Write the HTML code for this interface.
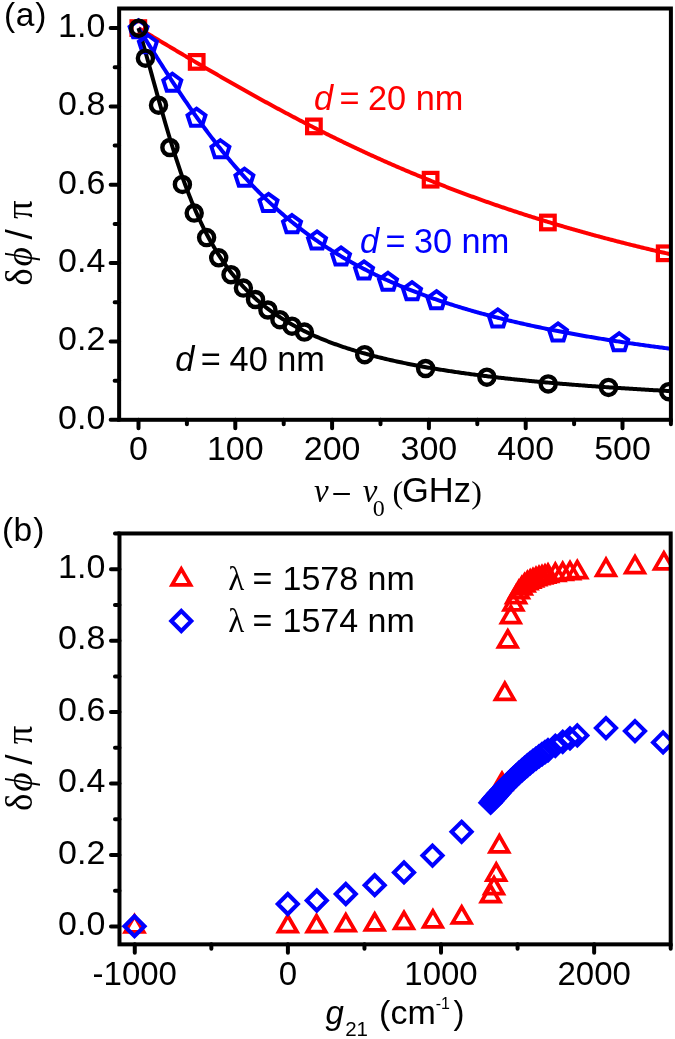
<!DOCTYPE html>
<html><head><meta charset="utf-8"><style>
html,body{margin:0;padding:0;background:#fff;}
svg{display:block;will-change:transform;filter:blur(0.35px);}

</style></head><body>
<svg width="675" height="1039" viewBox="0 0 675 1039">
<defs><clipPath id="ca"><rect x="119.14" y="8.51" width="551.76" height="411.29"/></clipPath><clipPath id="cb"><rect x="119.47" y="533.47" width="551.23" height="410.89"/></clipPath></defs>
<g clip-path="url(#ca)">
<polyline points="138.5,28.1 139.83,28.9 141.16,29.69 142.49,30.49 143.82,31.29 145.16,32.09 146.49,32.88 147.82,33.68 149.15,34.48 150.48,35.27 151.81,36.07 153.14,36.87 154.47,37.66 155.8,38.46 157.13,39.26 158.47,40.05 159.8,40.85 161.13,41.64 162.46,42.44 163.79,43.23 165.12,44.03 166.45,44.82 167.78,45.61 169.11,46.41 170.44,47.2 171.78,47.99 173.11,48.78 174.44,49.58 175.77,50.37 177.1,51.16 178.43,51.95 179.76,52.74 181.09,53.53 182.42,54.32 183.75,55.11 185.09,55.89 186.42,56.68 187.75,57.47 189.08,58.25 190.41,59.04 191.74,59.82 193.07,60.61 194.4,61.39 195.73,62.17 197.06,62.96 198.39,63.74 199.73,64.52 201.06,65.3 202.39,66.08 203.72,66.86 205.05,67.63 206.38,68.41 207.71,69.19 209.04,69.96 210.37,70.74 211.7,71.51 213.04,72.29 214.37,73.06 215.7,73.83 217.03,74.6 218.36,75.37 219.69,76.14 221.02,76.9 222.35,77.67 223.68,78.44 225.01,79.2 226.35,79.97 227.68,80.73 229.01,81.49 230.34,82.25 231.67,83.01 233,83.77 234.33,84.53 235.66,85.29 236.99,86.04 238.32,86.8 239.66,87.55 240.99,88.3 242.32,89.05 243.65,89.8 244.98,90.55 246.31,91.3 247.64,92.05 248.97,92.79 250.3,93.54 251.63,94.28 252.97,95.02 254.3,95.76 255.63,96.5 256.96,97.24 258.29,97.98 259.62,98.71 260.95,99.45 262.28,100.18 263.61,100.91 264.94,101.64 266.28,102.37 267.61,103.1 268.94,103.83 270.27,104.55 271.6,105.28 272.93,106 274.26,106.72 275.59,107.44 276.92,108.16 278.25,108.88 279.59,109.59 280.92,110.31 282.25,111.02 283.58,111.73 284.91,112.44 286.24,113.15 287.57,113.86 288.9,114.56 290.23,115.27 291.56,115.97 292.9,116.67 294.23,117.37 295.56,118.07 296.89,118.77 298.22,119.47 299.55,120.16 300.88,120.85 302.21,121.54 303.54,122.23 304.88,122.92 306.21,123.61 307.54,124.29 308.87,124.98 310.2,125.66 311.53,126.34 312.86,127.02 314.19,127.7 315.52,128.37 316.85,129.05 318.19,129.72 319.52,130.39 320.85,131.06 322.18,131.73 323.51,132.4 324.84,133.06 326.17,133.73 327.5,134.39 328.83,135.05 330.16,135.71 331.5,136.36 332.83,137.02 334.16,137.67 335.49,138.32 336.82,138.98 338.15,139.62 339.48,140.27 340.81,140.92 342.14,141.56 343.47,142.2 344.81,142.85 346.14,143.48 347.47,144.12 348.8,144.76 350.13,145.39 351.46,146.03 352.79,146.66 354.12,147.29 355.45,147.91 356.78,148.54 358.12,149.17 359.45,149.79 360.78,150.41 362.11,151.03 363.44,151.65 364.77,152.26 366.1,152.88 367.43,153.49 368.76,154.1 370.09,154.71 371.42,155.32 372.76,155.93 374.09,156.53 375.42,157.13 376.75,157.74 378.08,158.34 379.41,158.93 380.74,159.53 382.07,160.13 383.4,160.72 384.74,161.31 386.07,161.9 387.4,162.49 388.73,163.07 390.06,163.66 391.39,164.24 392.72,164.82 394.05,165.4 395.38,165.98 396.71,166.56 398.05,167.13 399.38,167.71 400.71,168.28 402.04,168.85 403.37,169.42 404.7,169.98 406.03,170.55 407.36,171.11 408.69,171.67 410.02,172.23 411.36,172.79 412.69,173.35 414.02,173.91 415.35,174.46 416.68,175.01 418.01,175.56 419.34,176.11 420.67,176.66 422,177.2 423.33,177.75 424.66,178.29 426,178.83 427.33,179.37 428.66,179.91 429.99,180.44 431.32,180.98 432.65,181.51 433.98,182.04 435.31,182.57 436.64,183.1 437.97,183.62 439.31,184.15 440.64,184.67 441.97,185.19 443.3,185.71 444.63,186.23 445.96,186.75 447.29,187.26 448.62,187.78 449.95,188.29 451.28,188.8 452.62,189.31 453.95,189.81 455.28,190.32 456.61,190.82 457.94,191.33 459.27,191.83 460.6,192.33 461.93,192.82 463.26,193.32 464.59,193.82 465.93,194.31 467.26,194.8 468.59,195.29 469.92,195.78 471.25,196.27 472.58,196.75 473.91,197.24 475.24,197.72 476.57,198.2 477.9,198.68 479.24,199.16 480.57,199.64 481.9,200.11 483.23,200.58 484.56,201.06 485.89,201.53 487.22,202 488.55,202.47 489.88,202.93 491.21,203.4 492.55,203.86 493.88,204.32 495.21,204.78 496.54,205.24 497.87,205.7 499.2,206.15 500.53,206.61 501.86,207.06 503.19,207.51 504.52,207.96 505.86,208.41 507.19,208.86 508.52,209.31 509.85,209.75 511.18,210.2 512.51,210.64 513.84,211.08 515.17,211.52 516.5,211.95 517.84,212.39 519.17,212.83 520.5,213.26 521.83,213.69 523.16,214.12 524.49,214.55 525.82,214.98 527.15,215.41 528.48,215.83 529.81,216.26 531.14,216.68 532.48,217.1 533.81,217.52 535.14,217.94 536.47,218.36 537.8,218.77 539.13,219.19 540.46,219.6 541.79,220.01 543.12,220.42 544.45,220.83 545.79,221.24 547.12,221.65 548.45,222.05 549.78,222.46 551.11,222.86 552.44,223.26 553.77,223.66 555.1,224.06 556.43,224.46 557.76,224.85 559.1,225.25 560.43,225.64 561.76,226.03 563.09,226.43 564.42,226.82 565.75,227.21 567.08,227.59 568.41,227.98 569.74,228.36 571.08,228.75 572.41,229.13 573.74,229.51 575.07,229.89 576.4,230.27 577.73,230.65 579.06,231.03 580.39,231.4 581.72,231.78 583.05,232.15 584.38,232.52 585.72,232.89 587.05,233.26 588.38,233.63 589.71,234 591.04,234.36 592.37,234.73 593.7,235.09 595.03,235.45 596.36,235.82 597.69,236.18 599.03,236.53 600.36,236.89 601.69,237.25 603.02,237.61 604.35,237.96 605.68,238.31 607.01,238.67 608.34,239.02 609.67,239.37 611,239.72 612.34,240.06 613.67,240.41 615,240.76 616.33,241.1 617.66,241.44 618.99,241.79 620.32,242.13 621.65,242.47 622.98,242.81 624.32,243.15 625.65,243.48 626.98,243.82 628.31,244.15 629.64,244.49 630.97,244.82 632.3,245.15 633.63,245.48 634.96,245.81 636.29,246.14 637.62,246.47 638.96,246.79 640.29,247.12 641.62,247.44 642.95,247.77 644.28,248.09 645.61,248.41 646.94,248.73 648.27,249.05 649.6,249.37 650.93,249.69 652.27,250 653.6,250.32 654.93,250.63 656.26,250.95 657.59,251.26 658.92,251.57 660.25,251.88 661.58,252.19 662.91,252.5 664.25,252.81 665.58,253.12 666.91,253.42 668.24,253.73 669.57,254.03 670.9,254.33" fill="none" stroke="#ff0000" stroke-width="4.0" stroke-linejoin="round"/>
<polyline points="138.5,28.1 139.83,30.23 141.16,32.36 142.49,34.49 143.82,36.62 145.16,38.74 146.49,40.87 147.82,42.99 149.15,45.11 150.48,47.23 151.81,49.35 153.14,51.46 154.47,53.57 155.8,55.67 157.13,57.77 158.47,59.87 159.8,61.96 161.13,64.05 162.46,66.14 163.79,68.21 165.12,70.29 166.45,72.35 167.78,74.41 169.11,76.47 170.44,78.51 171.78,80.55 173.11,82.59 174.44,84.61 175.77,86.63 177.1,88.64 178.43,90.64 179.76,92.64 181.09,94.62 182.42,96.6 183.75,98.57 185.09,100.53 186.42,102.48 187.75,104.42 189.08,106.35 190.41,108.27 191.74,110.19 193.07,112.09 194.4,113.98 195.73,115.86 197.06,117.73 198.39,119.6 199.73,121.45 201.06,123.28 202.39,125.11 203.72,126.93 205.05,128.74 206.38,130.53 207.71,132.32 209.04,134.09 210.37,135.85 211.7,137.6 213.04,139.34 214.37,141.07 215.7,142.79 217.03,144.49 218.36,146.18 219.69,147.86 221.02,149.53 222.35,151.19 223.68,152.84 225.01,154.47 226.35,156.09 227.68,157.7 229.01,159.3 230.34,160.89 231.67,162.46 233,164.03 234.33,165.58 235.66,167.12 236.99,168.64 238.32,170.16 239.66,171.66 240.99,173.16 242.32,174.64 243.65,176.11 244.98,177.56 246.31,179.01 247.64,180.45 248.97,181.87 250.3,183.28 251.63,184.68 252.97,186.07 254.3,187.45 255.63,188.81 256.96,190.17 258.29,191.51 259.62,192.85 260.95,194.17 262.28,195.48 263.61,196.78 264.94,198.07 266.28,199.35 267.61,200.62 268.94,201.87 270.27,203.12 271.6,204.36 272.93,205.59 274.26,206.8 275.59,208.01 276.92,209.2 278.25,210.39 279.59,211.56 280.92,212.73 282.25,213.88 283.58,215.03 284.91,216.17 286.24,217.29 287.57,218.41 288.9,219.52 290.23,220.61 291.56,221.7 292.9,222.78 294.23,223.85 295.56,224.91 296.89,225.97 298.22,227.01 299.55,228.04 300.88,229.07 302.21,230.09 303.54,231.09 304.88,232.09 306.21,233.08 307.54,234.07 308.87,235.04 310.2,236.01 311.53,236.97 312.86,237.92 314.19,238.86 315.52,239.79 316.85,240.72 318.19,241.64 319.52,242.55 320.85,243.45 322.18,244.34 323.51,245.23 324.84,246.11 326.17,246.98 327.5,247.85 328.83,248.71 330.16,249.56 331.5,250.4 332.83,251.24 334.16,252.07 335.49,252.89 336.82,253.71 338.15,254.52 339.48,255.32 340.81,256.12 342.14,256.91 343.47,257.69 344.81,258.47 346.14,259.24 347.47,260.01 348.8,260.76 350.13,261.52 351.46,262.26 352.79,263 354.12,263.73 355.45,264.46 356.78,265.18 358.12,265.9 359.45,266.61 360.78,267.32 362.11,268.01 363.44,268.71 364.77,269.4 366.1,270.08 367.43,270.76 368.76,271.43 370.09,272.09 371.42,272.76 372.76,273.41 374.09,274.06 375.42,274.71 376.75,275.35 378.08,275.98 379.41,276.62 380.74,277.24 382.07,277.86 383.4,278.48 384.74,279.09 386.07,279.7 387.4,280.3 388.73,280.9 390.06,281.49 391.39,282.08 392.72,282.66 394.05,283.24 395.38,283.82 396.71,284.39 398.05,284.95 399.38,285.52 400.71,286.07 402.04,286.63 403.37,287.18 404.7,287.72 406.03,288.26 407.36,288.8 408.69,289.34 410.02,289.87 411.36,290.39 412.69,290.91 414.02,291.43 415.35,291.95 416.68,292.46 418.01,292.96 419.34,293.47 420.67,293.97 422,294.46 423.33,294.95 424.66,295.44 426,295.93 427.33,296.41 428.66,296.89 429.99,297.36 431.32,297.84 432.65,298.3 433.98,298.77 435.31,299.23 436.64,299.69 437.97,300.15 439.31,300.6 440.64,301.05 441.97,301.49 443.3,301.94 444.63,302.38 445.96,302.81 447.29,303.25 448.62,303.68 449.95,304.11 451.28,304.53 452.62,304.95 453.95,305.37 455.28,305.79 456.61,306.2 457.94,306.61 459.27,307.02 460.6,307.43 461.93,307.83 463.26,308.23 464.59,308.63 465.93,309.02 467.26,309.41 468.59,309.8 469.92,310.19 471.25,310.57 472.58,310.96 473.91,311.33 475.24,311.71 476.57,312.09 477.9,312.46 479.24,312.83 480.57,313.2 481.9,313.56 483.23,313.92 484.56,314.28 485.89,314.64 487.22,315 488.55,315.35 489.88,315.7 491.21,316.05 492.55,316.4 493.88,316.74 495.21,317.08 496.54,317.42 497.87,317.76 499.2,318.1 500.53,318.43 501.86,318.76 503.19,319.09 504.52,319.42 505.86,319.75 507.19,320.07 508.52,320.39 509.85,320.71 511.18,321.03 512.51,321.35 513.84,321.66 515.17,321.97 516.5,322.28 517.84,322.59 519.17,322.9 520.5,323.2 521.83,323.51 523.16,323.81 524.49,324.11 525.82,324.41 527.15,324.7 528.48,325 529.81,325.29 531.14,325.58 532.48,325.87 533.81,326.15 535.14,326.44 536.47,326.72 537.8,327.01 539.13,327.29 540.46,327.57 541.79,327.84 543.12,328.12 544.45,328.39 545.79,328.67 547.12,328.94 548.45,329.21 549.78,329.48 551.11,329.74 552.44,330.01 553.77,330.27 555.1,330.53 556.43,330.79 557.76,331.05 559.1,331.31 560.43,331.57 561.76,331.82 563.09,332.08 564.42,332.33 565.75,332.58 567.08,332.83 568.41,333.08 569.74,333.32 571.08,333.57 572.41,333.81 573.74,334.06 575.07,334.3 576.4,334.54 577.73,334.78 579.06,335.01 580.39,335.25 581.72,335.48 583.05,335.72 584.38,335.95 585.72,336.18 587.05,336.41 588.38,336.64 589.71,336.87 591.04,337.09 592.37,337.32 593.7,337.54 595.03,337.77 596.36,337.99 597.69,338.21 599.03,338.43 600.36,338.65 601.69,338.86 603.02,339.08 604.35,339.3 605.68,339.51 607.01,339.72 608.34,339.93 609.67,340.14 611,340.35 612.34,340.56 613.67,340.77 615,340.98 616.33,341.18 617.66,341.38 618.99,341.59 620.32,341.79 621.65,341.99 622.98,342.19 624.32,342.39 625.65,342.59 626.98,342.79 628.31,342.98 629.64,343.18 630.97,343.37 632.3,343.57 633.63,343.76 634.96,343.95 636.29,344.14 637.62,344.33 638.96,344.52 640.29,344.71 641.62,344.89 642.95,345.08 644.28,345.26 645.61,345.45 646.94,345.63 648.27,345.81 649.6,346 650.93,346.18 652.27,346.36 653.6,346.54 654.93,346.71 656.26,346.89 657.59,347.07 658.92,347.24 660.25,347.42 661.58,347.59 662.91,347.77 664.25,347.94 665.58,348.11 666.91,348.28 668.24,348.45 669.57,348.62 670.9,348.79" fill="none" stroke="#0000ff" stroke-width="4.0" stroke-linejoin="round"/>
<polyline points="138.5,28.1 139.83,32.55 141.16,37.08 142.49,41.66 143.82,46.29 145.16,50.98 146.49,55.7 147.82,60.46 149.15,65.24 150.48,70.05 151.81,74.87 153.14,79.69 154.47,84.52 155.8,89.34 157.13,94.15 158.47,98.94 159.8,103.71 161.13,108.44 162.46,113.14 163.79,117.81 165.12,122.43 166.45,127 167.78,131.52 169.11,135.99 170.44,140.39 171.78,144.74 173.11,149.02 174.44,153.24 175.77,157.39 177.1,161.47 178.43,165.48 179.76,169.42 181.09,173.29 182.42,177.09 183.75,180.81 185.09,184.46 186.42,188.04 187.75,191.55 189.08,194.99 190.41,198.35 191.74,201.64 193.07,204.87 194.4,208.02 195.73,211.11 197.06,214.13 198.39,217.08 199.73,219.97 201.06,222.8 202.39,225.56 203.72,228.27 205.05,230.91 206.38,233.5 207.71,236.02 209.04,238.5 210.37,240.91 211.7,243.28 213.04,245.59 214.37,247.85 215.7,250.06 217.03,252.23 218.36,254.34 219.69,256.41 221.02,258.44 222.35,260.42 223.68,262.36 225.01,264.26 226.35,266.12 227.68,267.94 229.01,269.72 230.34,271.47 231.67,273.17 233,274.85 234.33,276.49 235.66,278.09 236.99,279.67 238.32,281.21 239.66,282.72 240.99,284.2 242.32,285.65 243.65,287.07 244.98,288.47 246.31,289.84 247.64,291.18 248.97,292.5 250.3,293.79 251.63,295.06 252.97,296.3 254.3,297.53 255.63,298.72 256.96,299.9 258.29,301.06 259.62,302.19 260.95,303.31 262.28,304.4 263.61,305.48 264.94,306.53 266.28,307.57 267.61,308.59 268.94,309.6 270.27,310.58 271.6,311.55 272.93,312.51 274.26,313.44 275.59,314.37 276.92,315.27 278.25,316.16 279.59,317.04 280.92,317.9 282.25,318.75 283.58,319.59 284.91,320.41 286.24,321.22 287.57,322.02 288.9,322.81 290.23,323.58 291.56,324.34 292.9,325.09 294.23,325.83 295.56,326.56 296.89,327.28 298.22,327.98 299.55,328.68 300.88,329.36 302.21,330.04 303.54,330.71 304.88,331.36 306.21,332.01 307.54,332.65 308.87,333.28 310.2,333.9 311.53,334.51 312.86,335.12 314.19,335.71 315.52,336.3 316.85,336.88 318.19,337.45 319.52,338.02 320.85,338.57 322.18,339.12 323.51,339.67 324.84,340.2 326.17,340.73 327.5,341.25 328.83,341.77 330.16,342.28 331.5,342.78 332.83,343.27 334.16,343.76 335.49,344.25 336.82,344.72 338.15,345.2 339.48,345.66 340.81,346.12 342.14,346.58 343.47,347.03 344.81,347.47 346.14,347.91 347.47,348.34 348.8,348.77 350.13,349.2 351.46,349.61 352.79,350.03 354.12,350.44 355.45,350.84 356.78,351.24 358.12,351.64 359.45,352.03 360.78,352.42 362.11,352.8 363.44,353.18 364.77,353.55 366.1,353.92 367.43,354.29 368.76,354.65 370.09,355.01 371.42,355.36 372.76,355.71 374.09,356.06 375.42,356.4 376.75,356.74 378.08,357.07 379.41,357.41 380.74,357.74 382.07,358.06 383.4,358.38 384.74,358.7 386.07,359.02 387.4,359.33 388.73,359.64 390.06,359.95 391.39,360.25 392.72,360.55 394.05,360.85 395.38,361.14 396.71,361.43 398.05,361.72 399.38,362.01 400.71,362.29 402.04,362.57 403.37,362.85 404.7,363.12 406.03,363.4 407.36,363.67 408.69,363.93 410.02,364.2 411.36,364.46 412.69,364.72 414.02,364.98 415.35,365.23 416.68,365.49 418.01,365.74 419.34,365.99 420.67,366.23 422,366.48 423.33,366.72 424.66,366.96 426,367.19 427.33,367.43 428.66,367.66 429.99,367.89 431.32,368.12 432.65,368.35 433.98,368.58 435.31,368.8 436.64,369.02 437.97,369.24 439.31,369.46 440.64,369.67 441.97,369.89 443.3,370.1 444.63,370.31 445.96,370.52 447.29,370.73 448.62,370.93 449.95,371.14 451.28,371.34 452.62,371.54 453.95,371.74 455.28,371.93 456.61,372.13 457.94,372.32 459.27,372.52 460.6,372.71 461.93,372.9 463.26,373.08 464.59,373.27 465.93,373.45 467.26,373.64 468.59,373.82 469.92,374 471.25,374.18 472.58,374.36 473.91,374.53 475.24,374.71 476.57,374.88 477.9,375.05 479.24,375.23 480.57,375.4 481.9,375.56 483.23,375.73 484.56,375.9 485.89,376.06 487.22,376.23 488.55,376.39 489.88,376.55 491.21,376.71 492.55,376.87 493.88,377.03 495.21,377.18 496.54,377.34 497.87,377.49 499.2,377.64 500.53,377.8 501.86,377.95 503.19,378.1 504.52,378.25 505.86,378.39 507.19,378.54 508.52,378.69 509.85,378.83 511.18,378.98 512.51,379.12 513.84,379.26 515.17,379.4 516.5,379.54 517.84,379.68 519.17,379.82 520.5,379.95 521.83,380.09 523.16,380.22 524.49,380.36 525.82,380.49 527.15,380.62 528.48,380.76 529.81,380.89 531.14,381.02 532.48,381.15 533.81,381.27 535.14,381.4 536.47,381.53 537.8,381.65 539.13,381.78 540.46,381.9 541.79,382.02 543.12,382.15 544.45,382.27 545.79,382.39 547.12,382.51 548.45,382.63 549.78,382.75 551.11,382.87 552.44,382.98 553.77,383.1 555.1,383.21 556.43,383.33 557.76,383.44 559.1,383.56 560.43,383.67 561.76,383.78 563.09,383.89 564.42,384 565.75,384.11 567.08,384.22 568.41,384.33 569.74,384.44 571.08,384.55 572.41,384.65 573.74,384.76 575.07,384.87 576.4,384.97 577.73,385.07 579.06,385.18 580.39,385.28 581.72,385.38 583.05,385.48 584.38,385.59 585.72,385.69 587.05,385.79 588.38,385.89 589.71,385.98 591.04,386.08 592.37,386.18 593.7,386.28 595.03,386.37 596.36,386.47 597.69,386.57 599.03,386.66 600.36,386.75 601.69,386.85 603.02,386.94 604.35,387.03 605.68,387.13 607.01,387.22 608.34,387.31 609.67,387.4 611,387.49 612.34,387.58 613.67,387.67 615,387.76 616.33,387.85 617.66,387.94 618.99,388.02 620.32,388.11 621.65,388.2 622.98,388.28 624.32,388.37 625.65,388.45 626.98,388.54 628.31,388.62 629.64,388.7 630.97,388.79 632.3,388.87 633.63,388.95 634.96,389.03 636.29,389.12 637.62,389.2 638.96,389.28 640.29,389.36 641.62,389.44 642.95,389.52 644.28,389.6 645.61,389.67 646.94,389.75 648.27,389.83 649.6,389.91 650.93,389.98 652.27,390.06 653.6,390.14 654.93,390.21 656.26,390.29 657.59,390.36 658.92,390.44 660.25,390.51 661.58,390.59 662.91,390.66 664.25,390.73 665.58,390.8 666.91,390.88 668.24,390.95 669.57,391.02 670.9,391.09" fill="none" stroke="#000000" stroke-width="4.0" stroke-linejoin="round"/>
<rect x="131.5" y="21.3" width="13.6" height="13.6" fill="none" stroke="#ff0000" stroke-width="4.2"/>
<rect x="189.9" y="55.1" width="13.6" height="13.6" fill="none" stroke="#ff0000" stroke-width="4.2"/>
<rect x="307.1" y="119.6" width="13.6" height="13.6" fill="none" stroke="#ff0000" stroke-width="4.2"/>
<rect x="423.8" y="172.9" width="13.6" height="13.6" fill="none" stroke="#ff0000" stroke-width="4.2"/>
<rect x="541.1" y="215.7" width="13.6" height="13.6" fill="none" stroke="#ff0000" stroke-width="4.2"/>
<rect x="657.9" y="246.5" width="13.6" height="13.6" fill="none" stroke="#ff0000" stroke-width="4.2"/>
<polygon points="138.6,20.25 147.59,26.78 144.15,37.35 133.05,37.35 129.61,26.78" fill="none" stroke="#0000ff" stroke-width="4.0" stroke-linejoin="miter"/>
<polygon points="147.9,35.05 156.89,41.58 153.45,52.15 142.35,52.15 138.91,41.58" fill="none" stroke="#0000ff" stroke-width="4.0" stroke-linejoin="miter"/>
<polygon points="172.3,73.65 181.29,80.18 177.85,90.75 166.75,90.75 163.31,80.18" fill="none" stroke="#0000ff" stroke-width="4.0" stroke-linejoin="miter"/>
<polygon points="196.5,108.65 205.49,115.18 202.05,125.75 190.95,125.75 187.51,115.18" fill="none" stroke="#0000ff" stroke-width="4.0" stroke-linejoin="miter"/>
<polygon points="220.4,140.25 229.39,146.78 225.95,157.35 214.85,157.35 211.41,146.78" fill="none" stroke="#0000ff" stroke-width="4.0" stroke-linejoin="miter"/>
<polygon points="244.4,168.65 253.39,175.18 249.95,185.75 238.85,185.75 235.41,175.18" fill="none" stroke="#0000ff" stroke-width="4.0" stroke-linejoin="miter"/>
<polygon points="268.5,193.85 277.49,200.38 274.05,210.95 262.95,210.95 259.51,200.38" fill="none" stroke="#0000ff" stroke-width="4.0" stroke-linejoin="miter"/>
<polygon points="292,215.05 300.99,221.58 297.55,232.15 286.45,232.15 283.01,221.58" fill="none" stroke="#0000ff" stroke-width="4.0" stroke-linejoin="miter"/>
<polygon points="317,231.45 325.99,237.98 322.55,248.55 311.45,248.55 308.01,237.98" fill="none" stroke="#0000ff" stroke-width="4.0" stroke-linejoin="miter"/>
<polygon points="341,247.45 349.99,253.98 346.55,264.55 335.45,264.55 332.01,253.98" fill="none" stroke="#0000ff" stroke-width="4.0" stroke-linejoin="miter"/>
<polygon points="364,261.35 372.99,267.88 369.55,278.45 358.45,278.45 355.01,267.88" fill="none" stroke="#0000ff" stroke-width="4.0" stroke-linejoin="miter"/>
<polygon points="388,272.75 396.99,279.28 393.55,289.85 382.45,289.85 379.01,279.28" fill="none" stroke="#0000ff" stroke-width="4.0" stroke-linejoin="miter"/>
<polygon points="412,282.15 420.99,288.68 417.55,299.25 406.45,299.25 403.01,288.68" fill="none" stroke="#0000ff" stroke-width="4.0" stroke-linejoin="miter"/>
<polygon points="436.5,291.15 445.49,297.68 442.05,308.25 430.95,308.25 427.51,297.68" fill="none" stroke="#0000ff" stroke-width="4.0" stroke-linejoin="miter"/>
<polygon points="497.8,309.35 506.79,315.88 503.35,326.45 492.25,326.45 488.81,315.88" fill="none" stroke="#0000ff" stroke-width="4.0" stroke-linejoin="miter"/>
<polygon points="558,323.45 566.99,329.98 563.55,340.55 552.45,340.55 549.01,329.98" fill="none" stroke="#0000ff" stroke-width="4.0" stroke-linejoin="miter"/>
<polygon points="619.2,333.25 628.19,339.78 624.75,350.35 613.65,350.35 610.21,339.78" fill="none" stroke="#0000ff" stroke-width="4.0" stroke-linejoin="miter"/>
<circle cx="138.6" cy="28.2" r="7.55" fill="none" stroke="#000000" stroke-width="4.4"/>
<circle cx="145.4" cy="58.2" r="7.55" fill="none" stroke="#000000" stroke-width="4.4"/>
<circle cx="158.5" cy="105.2" r="7.55" fill="none" stroke="#000000" stroke-width="4.4"/>
<circle cx="169.9" cy="147.5" r="7.55" fill="none" stroke="#000000" stroke-width="4.4"/>
<circle cx="182.4" cy="184.4" r="7.55" fill="none" stroke="#000000" stroke-width="4.4"/>
<circle cx="194.2" cy="213.1" r="7.55" fill="none" stroke="#000000" stroke-width="4.4"/>
<circle cx="206.6" cy="237.6" r="7.55" fill="none" stroke="#000000" stroke-width="4.4"/>
<circle cx="218.7" cy="257.8" r="7.55" fill="none" stroke="#000000" stroke-width="4.4"/>
<circle cx="231" cy="274.7" r="7.55" fill="none" stroke="#000000" stroke-width="4.4"/>
<circle cx="243.4" cy="288.1" r="7.55" fill="none" stroke="#000000" stroke-width="4.4"/>
<circle cx="255.5" cy="299.5" r="7.55" fill="none" stroke="#000000" stroke-width="4.4"/>
<circle cx="267.9" cy="310" r="7.55" fill="none" stroke="#000000" stroke-width="4.4"/>
<circle cx="279.9" cy="319.7" r="7.55" fill="none" stroke="#000000" stroke-width="4.4"/>
<circle cx="292" cy="326.2" r="7.55" fill="none" stroke="#000000" stroke-width="4.4"/>
<circle cx="304.4" cy="332.1" r="7.55" fill="none" stroke="#000000" stroke-width="4.4"/>
<circle cx="364.7" cy="354.7" r="7.55" fill="none" stroke="#000000" stroke-width="4.4"/>
<circle cx="425.6" cy="368.5" r="7.55" fill="none" stroke="#000000" stroke-width="4.4"/>
<circle cx="486.9" cy="377.2" r="7.55" fill="none" stroke="#000000" stroke-width="4.4"/>
<circle cx="548.2" cy="383.9" r="7.55" fill="none" stroke="#000000" stroke-width="4.4"/>
<circle cx="608.5" cy="387.4" r="7.55" fill="none" stroke="#000000" stroke-width="4.4"/>
<circle cx="668.8" cy="391.7" r="7.55" fill="none" stroke="#000000" stroke-width="4.4"/>
</g>
<rect x="119.14" y="8.51" width="551.76" height="411.29" fill="none" stroke="#000" stroke-width="4.0"/>
<path d="M110.64,419.8H119.14M114.64,380.63H119.14M110.64,341.46H119.14M114.64,302.29H119.14M110.64,263.12H119.14M114.64,223.95H119.14M110.64,184.78H119.14M114.64,145.61H119.14M110.64,106.44H119.14M114.64,67.27H119.14M110.64,28.1H119.14M138.5,419.8V428.3M186.9,419.8V424.3M235.3,419.8V428.3M283.7,419.8V424.3M332.1,419.8V428.3M380.5,419.8V424.3M428.9,419.8V428.3M477.3,419.8V424.3M525.7,419.8V428.3M574.1,419.8V424.3M622.5,419.8V428.3M670.9,419.8V424.3" stroke="#000" stroke-width="4.0" stroke-linecap="round" fill="none"/>
<text x="105.3" y="428.6" font-family="Liberation Sans, sans-serif" font-size="34" text-anchor="end">0.0</text>
<text x="105.3" y="350.26" font-family="Liberation Sans, sans-serif" font-size="34" text-anchor="end">0.2</text>
<text x="105.3" y="271.92" font-family="Liberation Sans, sans-serif" font-size="34" text-anchor="end">0.4</text>
<text x="105.3" y="193.58" font-family="Liberation Sans, sans-serif" font-size="34" text-anchor="end">0.6</text>
<text x="105.3" y="115.24" font-family="Liberation Sans, sans-serif" font-size="34" text-anchor="end">0.8</text>
<text x="105.3" y="36.9" font-family="Liberation Sans, sans-serif" font-size="34" text-anchor="end">1.0</text>
<text x="138.5" y="460.3" font-family="Liberation Sans, sans-serif" font-size="34" text-anchor="middle">0</text>
<text x="235.3" y="460.3" font-family="Liberation Sans, sans-serif" font-size="34" text-anchor="middle">100</text>
<text x="332.1" y="460.3" font-family="Liberation Sans, sans-serif" font-size="34" text-anchor="middle">200</text>
<text x="428.9" y="460.3" font-family="Liberation Sans, sans-serif" font-size="34" text-anchor="middle">300</text>
<text x="525.7" y="460.3" font-family="Liberation Sans, sans-serif" font-size="34" text-anchor="middle">400</text>
<text x="622.5" y="460.3" font-family="Liberation Sans, sans-serif" font-size="34" text-anchor="middle">500</text>
<text x="3.9" y="26.4" font-family="Liberation Sans, sans-serif" font-size="33.5">(</text>
<text x="15.7" y="26.4" font-family="Liberation Sans, sans-serif" font-size="33.5">a</text>
<text x="35.3" y="26.4" font-family="Liberation Sans, sans-serif" font-size="33.5">)</text>
<text x="314" y="110" font-family="Liberation Sans, sans-serif" font-size="34.3" font-style="italic" fill="#ff0000">d</text>
<text x="339.6" y="110" font-family="Liberation Sans, sans-serif" font-size="34.3" fill="#ff0000">=</text>
<text x="368" y="110" font-family="Liberation Sans, sans-serif" font-size="34.3" fill="#ff0000">20 nm</text>
<text x="359.9" y="253" font-family="Liberation Sans, sans-serif" font-size="34.3" font-style="italic" fill="#0000ff">d</text>
<text x="385.5" y="253" font-family="Liberation Sans, sans-serif" font-size="34.3" fill="#0000ff">=</text>
<text x="413.9" y="253" font-family="Liberation Sans, sans-serif" font-size="34.3" fill="#0000ff">30 nm</text>
<text x="175.2" y="371" font-family="Liberation Sans, sans-serif" font-size="34.3" font-style="italic" fill="#000000">d</text>
<text x="200.8" y="371" font-family="Liberation Sans, sans-serif" font-size="34.3" fill="#000000">=</text>
<text x="229.6" y="371" font-family="Liberation Sans, sans-serif" font-size="34.3" fill="#000000">40 nm</text>
<text x="314" y="502.3" font-family="Liberation Serif, serif" font-size="33" font-style="italic">&#957;</text>
<text x="333.2" y="502.3" font-family="Liberation Sans, sans-serif" font-size="30">&#8211;</text>
<text x="362.7" y="502.3" font-family="Liberation Serif, serif" font-size="33" font-style="italic">&#957;</text>
<text x="372.7" y="515.5" font-family="Liberation Serif, serif" font-size="24">0</text>
<text x="392.5" y="502.8" font-family="Liberation Serif, serif" font-size="32">(</text>
<text x="402" y="501.5" font-family="Liberation Sans, sans-serif" font-size="34.5">GHz</text>
<text x="471.3" y="502.8" font-family="Liberation Serif, serif" font-size="32">)</text>
<text x="0" y="0" font-family="Liberation Serif, serif" font-size="37" transform="translate(32.4,285.7) rotate(-90)">&#948;</text>
<text x="0" y="0" font-family="Liberation Serif, serif" font-size="37" font-style="italic" transform="translate(32.4,266.2) rotate(-90)">&#981;</text>
<text x="0" y="0" font-family="Liberation Sans, sans-serif" font-size="37" transform="translate(32.4,239.5) rotate(-90)">/</text>
<text x="0" y="0" font-family="Liberation Serif, serif" font-size="37" transform="translate(32.4,219) rotate(-90)">&#960;</text>
<g clip-path="url(#cb)">
<polygon points="134.5,915.97 125.3,931.9 143.7,931.9" fill="none" stroke="#ff0000" stroke-width="3.75" stroke-linejoin="miter"/>
<polygon points="287.8,915.77 278.6,931.7 297,931.7" fill="none" stroke="#ff0000" stroke-width="3.75" stroke-linejoin="miter"/>
<polygon points="316.5,915.77 307.3,931.7 325.7,931.7" fill="none" stroke="#ff0000" stroke-width="3.75" stroke-linejoin="miter"/>
<polygon points="345.8,914.77 336.6,930.7 355,930.7" fill="none" stroke="#ff0000" stroke-width="3.75" stroke-linejoin="miter"/>
<polygon points="374.7,913.97 365.5,929.9 383.9,929.9" fill="none" stroke="#ff0000" stroke-width="3.75" stroke-linejoin="miter"/>
<polygon points="404,912.47 394.8,928.4 413.2,928.4" fill="none" stroke="#ff0000" stroke-width="3.75" stroke-linejoin="miter"/>
<polygon points="432.9,910.97 423.7,926.9 442.1,926.9" fill="none" stroke="#ff0000" stroke-width="3.75" stroke-linejoin="miter"/>
<polygon points="461.7,906.97 452.5,922.9 470.9,922.9" fill="none" stroke="#ff0000" stroke-width="3.75" stroke-linejoin="miter"/>
<polygon points="490.6,885.77 481.4,901.7 499.8,901.7" fill="none" stroke="#ff0000" stroke-width="3.75" stroke-linejoin="miter"/>
<polygon points="494,877.77 484.8,893.7 503.2,893.7" fill="none" stroke="#ff0000" stroke-width="3.75" stroke-linejoin="miter"/>
<polygon points="496.2,864.07 487,880 505.4,880" fill="none" stroke="#ff0000" stroke-width="3.75" stroke-linejoin="miter"/>
<polygon points="499.3,835.87 490.1,851.8 508.5,851.8" fill="none" stroke="#ff0000" stroke-width="3.75" stroke-linejoin="miter"/>
<polygon points="502,773.47 492.8,789.4 511.2,789.4" fill="none" stroke="#ff0000" stroke-width="3.75" stroke-linejoin="miter"/>
<polygon points="504.8,683.37 495.6,699.3 514,699.3" fill="none" stroke="#ff0000" stroke-width="3.75" stroke-linejoin="miter"/>
<polygon points="507.8,630.97 498.6,646.9 517,646.9" fill="none" stroke="#ff0000" stroke-width="3.75" stroke-linejoin="miter"/>
<polygon points="510.8,606.57 501.6,622.5 520,622.5" fill="none" stroke="#ff0000" stroke-width="3.75" stroke-linejoin="miter"/>
<polygon points="513.4,593.97 504.2,609.9 522.6,609.9" fill="none" stroke="#ff0000" stroke-width="3.75" stroke-linejoin="miter"/>
<polygon points="516.1,586.57 506.9,602.5 525.3,602.5" fill="none" stroke="#ff0000" stroke-width="3.75" stroke-linejoin="miter"/>
<polygon points="518.9,581.77 509.7,597.7 528.1,597.7" fill="none" stroke="#ff0000" stroke-width="3.75" stroke-linejoin="miter"/>
<polygon points="521.8,577.97 512.6,593.9 531,593.9" fill="none" stroke="#ff0000" stroke-width="3.75" stroke-linejoin="miter"/>
<polygon points="524.6,574.97 515.4,590.9 533.8,590.9" fill="none" stroke="#ff0000" stroke-width="3.75" stroke-linejoin="miter"/>
<polygon points="527.4,572.77 518.2,588.7 536.6,588.7" fill="none" stroke="#ff0000" stroke-width="3.75" stroke-linejoin="miter"/>
<polygon points="530.2,571.17 521,587.1 539.4,587.1" fill="none" stroke="#ff0000" stroke-width="3.75" stroke-linejoin="miter"/>
<polygon points="533,569.97 523.8,585.9 542.2,585.9" fill="none" stroke="#ff0000" stroke-width="3.75" stroke-linejoin="miter"/>
<polygon points="536,568.77 526.8,584.7 545.2,584.7" fill="none" stroke="#ff0000" stroke-width="3.75" stroke-linejoin="miter"/>
<polygon points="539,567.77 529.8,583.7 548.2,583.7" fill="none" stroke="#ff0000" stroke-width="3.75" stroke-linejoin="miter"/>
<polygon points="542,566.97 532.8,582.9 551.2,582.9" fill="none" stroke="#ff0000" stroke-width="3.75" stroke-linejoin="miter"/>
<polygon points="545,566.17 535.8,582.1 554.2,582.1" fill="none" stroke="#ff0000" stroke-width="3.75" stroke-linejoin="miter"/>
<polygon points="548,565.37 538.8,581.3 557.2,581.3" fill="none" stroke="#ff0000" stroke-width="3.75" stroke-linejoin="miter"/>
<polygon points="555.3,564.37 546.1,580.3 564.5,580.3" fill="none" stroke="#ff0000" stroke-width="3.75" stroke-linejoin="miter"/>
<polygon points="562.7,563.47 553.5,579.4 571.9,579.4" fill="none" stroke="#ff0000" stroke-width="3.75" stroke-linejoin="miter"/>
<polygon points="570,562.67 560.8,578.6 579.2,578.6" fill="none" stroke="#ff0000" stroke-width="3.75" stroke-linejoin="miter"/>
<polygon points="577.3,561.67 568.1,577.6 586.5,577.6" fill="none" stroke="#ff0000" stroke-width="3.75" stroke-linejoin="miter"/>
<polygon points="606,559.37 596.8,575.3 615.2,575.3" fill="none" stroke="#ff0000" stroke-width="3.75" stroke-linejoin="miter"/>
<polygon points="635,556.67 625.8,572.6 644.2,572.6" fill="none" stroke="#ff0000" stroke-width="3.75" stroke-linejoin="miter"/>
<polygon points="663.9,552.97 654.7,568.9 673.1,568.9" fill="none" stroke="#ff0000" stroke-width="3.75" stroke-linejoin="miter"/>
<polygon points="134.5,916.2 144.5,926.2 134.5,936.2 124.5,926.2" fill="none" stroke="#0000ff" stroke-width="4.1" stroke-linejoin="miter"/>
<polygon points="287.8,894 297.8,904 287.8,914 277.8,904" fill="none" stroke="#0000ff" stroke-width="4.1" stroke-linejoin="miter"/>
<polygon points="316.8,890.5 326.8,900.5 316.8,910.5 306.8,900.5" fill="none" stroke="#0000ff" stroke-width="4.1" stroke-linejoin="miter"/>
<polygon points="345.8,884 355.8,894 345.8,904 335.8,894" fill="none" stroke="#0000ff" stroke-width="4.1" stroke-linejoin="miter"/>
<polygon points="374.7,875.2 384.7,885.2 374.7,895.2 364.7,885.2" fill="none" stroke="#0000ff" stroke-width="4.1" stroke-linejoin="miter"/>
<polygon points="404,862.4 414,872.4 404,882.4 394,872.4" fill="none" stroke="#0000ff" stroke-width="4.1" stroke-linejoin="miter"/>
<polygon points="432.5,845.6 442.5,855.6 432.5,865.6 422.5,855.6" fill="none" stroke="#0000ff" stroke-width="4.1" stroke-linejoin="miter"/>
<polygon points="461.6,821.8 471.6,831.8 461.6,841.8 451.6,831.8" fill="none" stroke="#0000ff" stroke-width="4.1" stroke-linejoin="miter"/>
<polygon points="490.6,792.68 500.6,802.68 490.6,812.68 480.6,802.68" fill="none" stroke="#0000ff" stroke-width="4.1" stroke-linejoin="miter"/>
<polygon points="492.3,790.68 502.3,800.68 492.3,810.68 482.3,800.68" fill="none" stroke="#0000ff" stroke-width="4.1" stroke-linejoin="miter"/>
<polygon points="494,788.71 504,798.71 494,808.71 484,798.71" fill="none" stroke="#0000ff" stroke-width="4.1" stroke-linejoin="miter"/>
<polygon points="495.1,787.45 505.1,797.45 495.1,807.45 485.1,797.45" fill="none" stroke="#0000ff" stroke-width="4.1" stroke-linejoin="miter"/>
<polygon points="496.2,786.2 506.2,796.2 496.2,806.2 486.2,796.2" fill="none" stroke="#0000ff" stroke-width="4.1" stroke-linejoin="miter"/>
<polygon points="497.7,784.52 507.7,794.52 497.7,804.52 487.7,794.52" fill="none" stroke="#0000ff" stroke-width="4.1" stroke-linejoin="miter"/>
<polygon points="499.3,782.74 509.3,792.74 499.3,802.74 489.3,792.74" fill="none" stroke="#0000ff" stroke-width="4.1" stroke-linejoin="miter"/>
<polygon points="502,779.8 512,789.8 502,799.8 492,789.8" fill="none" stroke="#0000ff" stroke-width="4.1" stroke-linejoin="miter"/>
<polygon points="504.8,776.83 514.8,786.83 504.8,796.83 494.8,786.83" fill="none" stroke="#0000ff" stroke-width="4.1" stroke-linejoin="miter"/>
<polygon points="507.8,773.72 517.8,783.72 507.8,793.72 497.8,783.72" fill="none" stroke="#0000ff" stroke-width="4.1" stroke-linejoin="miter"/>
<polygon points="510.8,770.7 520.8,780.7 510.8,790.7 500.8,780.7" fill="none" stroke="#0000ff" stroke-width="4.1" stroke-linejoin="miter"/>
<polygon points="513.4,768.15 523.4,778.15 513.4,788.15 503.4,778.15" fill="none" stroke="#0000ff" stroke-width="4.1" stroke-linejoin="miter"/>
<polygon points="516.1,765.57 526.1,775.57 516.1,785.57 506.1,775.57" fill="none" stroke="#0000ff" stroke-width="4.1" stroke-linejoin="miter"/>
<polygon points="518.9,762.96 528.9,772.96 518.9,782.96 508.9,772.96" fill="none" stroke="#0000ff" stroke-width="4.1" stroke-linejoin="miter"/>
<polygon points="521.8,760.34 531.8,770.34 521.8,780.34 511.8,770.34" fill="none" stroke="#0000ff" stroke-width="4.1" stroke-linejoin="miter"/>
<polygon points="524.6,757.88 534.6,767.88 524.6,777.88 514.6,767.88" fill="none" stroke="#0000ff" stroke-width="4.1" stroke-linejoin="miter"/>
<polygon points="527.4,755.5 537.4,765.5 527.4,775.5 517.4,765.5" fill="none" stroke="#0000ff" stroke-width="4.1" stroke-linejoin="miter"/>
<polygon points="530.2,753.19 540.2,763.19 530.2,773.19 520.2,763.19" fill="none" stroke="#0000ff" stroke-width="4.1" stroke-linejoin="miter"/>
<polygon points="533,750.96 543,760.96 533,770.96 523,760.96" fill="none" stroke="#0000ff" stroke-width="4.1" stroke-linejoin="miter"/>
<polygon points="536,748.64 546,758.64 536,768.64 526,758.64" fill="none" stroke="#0000ff" stroke-width="4.1" stroke-linejoin="miter"/>
<polygon points="539,746.42 549,756.42 539,766.42 529,756.42" fill="none" stroke="#0000ff" stroke-width="4.1" stroke-linejoin="miter"/>
<polygon points="542,744.27 552,754.27 542,764.27 532,754.27" fill="none" stroke="#0000ff" stroke-width="4.1" stroke-linejoin="miter"/>
<polygon points="545,742.21 555,752.21 545,762.21 535,752.21" fill="none" stroke="#0000ff" stroke-width="4.1" stroke-linejoin="miter"/>
<polygon points="548,740.24 558,750.24 548,760.24 538,750.24" fill="none" stroke="#0000ff" stroke-width="4.1" stroke-linejoin="miter"/>
<polygon points="555.3,735.78 565.3,745.78 555.3,755.78 545.3,745.78" fill="none" stroke="#0000ff" stroke-width="4.1" stroke-linejoin="miter"/>
<polygon points="562.7,731.78 572.7,741.78 562.7,751.78 552.7,741.78" fill="none" stroke="#0000ff" stroke-width="4.1" stroke-linejoin="miter"/>
<polygon points="570,728.33 580,738.33 570,748.33 560,738.33" fill="none" stroke="#0000ff" stroke-width="4.1" stroke-linejoin="miter"/>
<polygon points="577.3,725.39 587.3,735.39 577.3,745.39 567.3,735.39" fill="none" stroke="#0000ff" stroke-width="4.1" stroke-linejoin="miter"/>
<polygon points="606,718.1 616,728.1 606,738.1 596,728.1" fill="none" stroke="#0000ff" stroke-width="4.1" stroke-linejoin="miter"/>
<polygon points="635,721.1 645,731.1 635,741.1 625,731.1" fill="none" stroke="#0000ff" stroke-width="4.1" stroke-linejoin="miter"/>
<polygon points="663.1,732.4 673.1,742.4 663.1,752.4 653.1,742.4" fill="none" stroke="#0000ff" stroke-width="4.1" stroke-linejoin="miter"/>
</g>
<rect x="119.47" y="533.47" width="551.23" height="410.89" fill="none" stroke="#000" stroke-width="4.0"/>
<path d="M110.97,926.5H119.47M114.97,890.77H119.47M110.97,855.04H119.47M114.97,819.31H119.47M110.97,783.58H119.47M114.97,747.85H119.47M110.97,712.12H119.47M114.97,676.39H119.47M110.97,640.66H119.47M114.97,604.93H119.47M110.97,569.2H119.47M114.97,533.47H119.47M134.78,944.37V952.87M211.34,944.37V948.87M287.9,944.37V952.87M364.46,944.37V948.87M441.02,944.37V952.87M517.58,944.37V948.87M594.14,944.37V952.87M670.7,944.37V948.87" stroke="#000" stroke-width="4.0" stroke-linecap="round" fill="none"/>
<text x="105.3" y="935.3" font-family="Liberation Sans, sans-serif" font-size="34" text-anchor="end">0.0</text>
<text x="105.3" y="863.84" font-family="Liberation Sans, sans-serif" font-size="34" text-anchor="end">0.2</text>
<text x="105.3" y="792.38" font-family="Liberation Sans, sans-serif" font-size="34" text-anchor="end">0.4</text>
<text x="105.3" y="720.92" font-family="Liberation Sans, sans-serif" font-size="34" text-anchor="end">0.6</text>
<text x="105.3" y="649.46" font-family="Liberation Sans, sans-serif" font-size="34" text-anchor="end">0.8</text>
<text x="105.3" y="578" font-family="Liberation Sans, sans-serif" font-size="34" text-anchor="end">1.0</text>
<text x="134.78" y="985.4" font-family="Liberation Sans, sans-serif" font-size="33" text-anchor="middle">-1000</text>
<text x="287.9" y="985.4" font-family="Liberation Sans, sans-serif" font-size="33" text-anchor="middle">0</text>
<text x="441.02" y="985.4" font-family="Liberation Sans, sans-serif" font-size="33" text-anchor="middle">1000</text>
<text x="594.14" y="985.4" font-family="Liberation Sans, sans-serif" font-size="33" text-anchor="middle">2000</text>
<text x="2" y="541" font-family="Liberation Sans, sans-serif" font-size="33.5">(</text>
<text x="13.6" y="541" font-family="Liberation Sans, sans-serif" font-size="33.5">b</text>
<text x="33.2" y="541" font-family="Liberation Sans, sans-serif" font-size="33.5">)</text>
<polygon points="181.3,568.97 172.1,584.9 190.5,584.9" fill="none" stroke="#ff0000" stroke-width="3.75" stroke-linejoin="miter"/>
<polygon points="181.3,611 191.3,621 181.3,631 171.3,621" fill="none" stroke="#0000ff" stroke-width="4.1" stroke-linejoin="miter"/>
<text x="228.3" y="590.3" font-family="Liberation Serif, serif" font-size="33">&#955;</text>
<text x="252.4" y="589.8" font-family="Liberation Sans, sans-serif" font-size="34">=</text>
<text x="282.5" y="590.3" font-family="Liberation Sans, sans-serif" font-size="34">1578 nm</text>
<text x="228.3" y="632" font-family="Liberation Serif, serif" font-size="33">&#955;</text>
<text x="252.4" y="631.5" font-family="Liberation Sans, sans-serif" font-size="34">=</text>
<text x="282.5" y="632" font-family="Liberation Sans, sans-serif" font-size="34">1574 nm</text>
<text x="0" y="0" font-family="Liberation Serif, serif" font-size="37" transform="translate(32.4,811) rotate(-90)">&#948;</text>
<text x="0" y="0" font-family="Liberation Serif, serif" font-size="37" font-style="italic" transform="translate(32.4,791.5) rotate(-90)">&#981;</text>
<text x="0" y="0" font-family="Liberation Sans, sans-serif" font-size="37" transform="translate(32.4,764.8) rotate(-90)">/</text>
<text x="0" y="0" font-family="Liberation Serif, serif" font-size="37" transform="translate(32.4,744.3) rotate(-90)">&#960;</text>
<text x="325.6" y="1023.5" font-family="Liberation Sans, sans-serif" font-size="33" font-style="italic">g</text>
<text x="345.2" y="1035.6" font-family="Liberation Sans, sans-serif" font-size="20.5">21</text>
<text x="379.1" y="1024" font-family="Liberation Sans, sans-serif" font-size="34">(cm</text>
<text x="435.7" y="1008.9" font-family="Liberation Sans, sans-serif" font-size="16">-1</text>
<text x="453.4" y="1024" font-family="Liberation Sans, sans-serif" font-size="33">)</text>
</svg>
</body></html>
